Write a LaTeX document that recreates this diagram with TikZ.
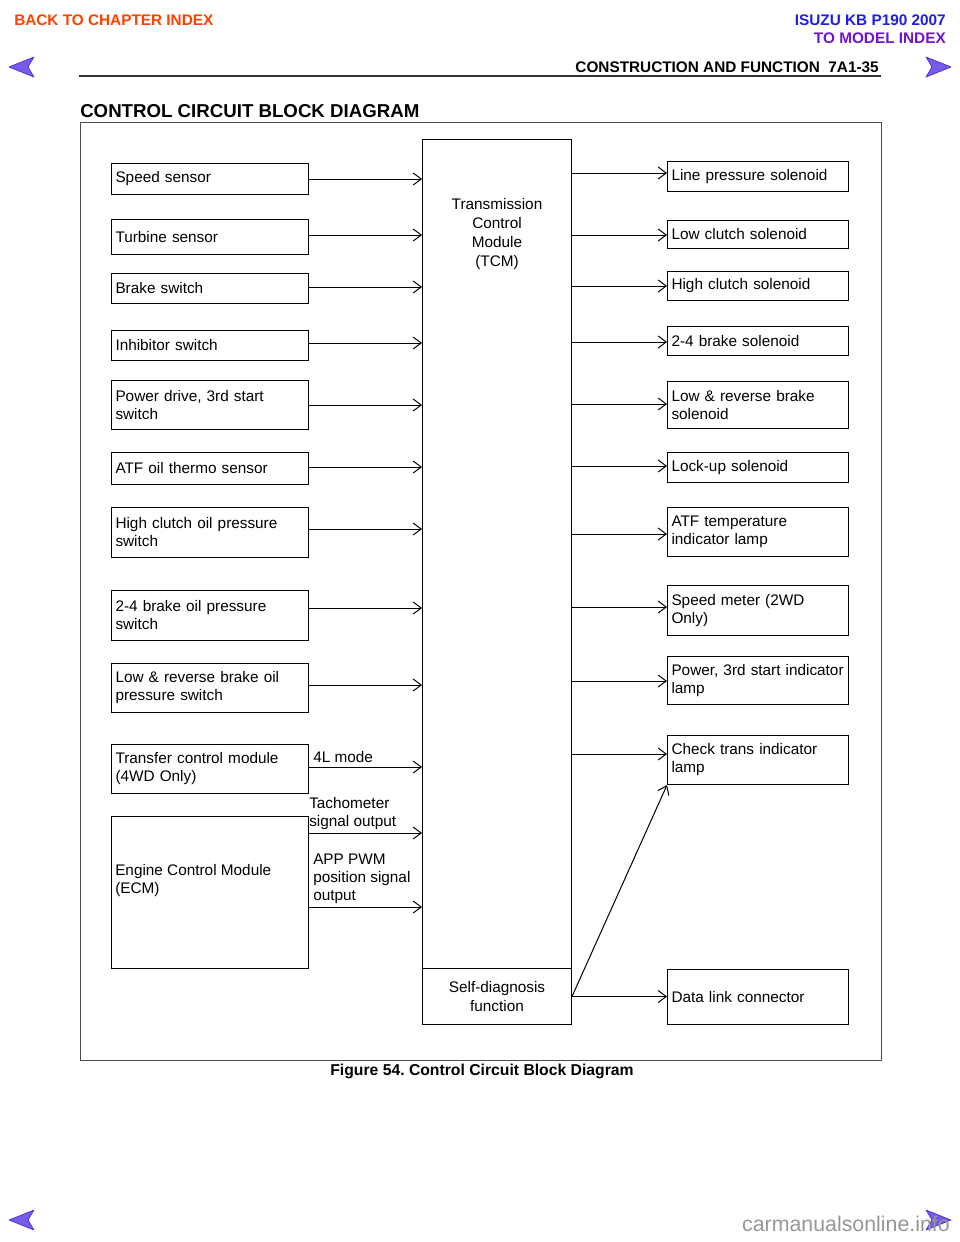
\documentclass[tikz,border=0pt]{standalone}
\usepackage{fontspec}
\setmainfont{Liberation Sans}
\usetikzlibrary{arrows.meta}
\frenchspacing
\definecolor{backred}{RGB}{255,64,0}
\definecolor{isublue}{RGB}{30,30,230}
\definecolor{modelpurple}{RGB}{110,20,210}
\definecolor{navfill}{RGB}{120,90,235}
\definecolor{navedge}{RGB}{80,40,200}
\definecolor{wmgray}{RGB}{150,150,150}
\tikzset{
  box/.style={draw, line width=0.75pt, inner xsep=3pt, inner ysep=0pt, align=left, anchor=north west,
    font=\fontsize{11.5pt}{13.5pt}\selectfont},
  lbox/.style={box, minimum width=147.75pt, text width=141.75pt},
  rbox/.style={box, minimum width=135.75pt, text width=129.75pt},
  arr/.style={line width=0.75pt, -{Straight Barb[length=6pt,width=9pt,line width=0.75pt]}},
  lbl/.style={font=\fontsize{11.5pt}{13.5pt}\selectfont, inner sep=0pt, align=left},
  hdr/.style={font=\bfseries\fontsize{11.5pt}{13.5pt}\selectfont, inner sep=0pt},
  nav/.style={fill=navfill, draw=navedge, line width=0.5pt, line join=round}
}
\begin{document}
\begin{tikzpicture}[x=0.75pt, y=-0.75pt]
\useasboundingbox (0,0) rectangle (960,1242);
% header
\node[hdr, text=backred, anchor=west] (back) at (14,20) {BACK TO CHAPTER INDEX};
\node[hdr, text=isublue, anchor=east] (isuzu) at (946,20) {ISUZU KB P190 2007};
\node[hdr, text=modelpurple, anchor=east] (model) at (946,38) {TO MODEL INDEX};
\node[hdr, anchor=east] (section) at (879,67) {CONSTRUCTION AND FUNCTION\ \ 7A1-35};
\draw[line width=1.5pt, black!80] (79,76) -- (881,76);
\node[font=\bfseries\fontsize{14pt}{16pt}\selectfont, inner sep=0pt, anchor=west] (title) at (80,111) {CONTROL CIRCUIT BLOCK DIAGRAM};
% nav arrows
\draw[nav] (9,67) -- (34,57) -- (28,67) -- (34,77) -- cycle;
\draw[nav] (951,67) -- (926,57) -- (932,67) -- (926,77) -- cycle;
\draw[nav] (9,1220) -- (34,1210) -- (28,1220) -- (34,1230) -- cycle;
\draw[nav] (951,1220) -- (926,1210) -- (932,1220) -- (926,1230) -- cycle;
% frame
\draw[line width=0.75pt, black!70] (80,122) rectangle (881,1060);
\node[hdr, font=\bfseries\fontsize{11.8pt}{13pt}\selectfont] (caption) at (482,1071) {Figure 54. Control Circuit Block Diagram};
% TCM
\node[draw, line width=0.75pt, minimum width=111.75pt, minimum height=621.75pt, anchor=north west, inner sep=0pt] (tcm) at (422,139) {};
\node[lbl, align=center, font=\fontsize{11.5pt}{14.25pt}\selectfont] (tcmtext) at (497,234) {Transmission\\Control\\Module\\(TCM)};
\node[draw, line width=0.75pt, minimum width=111.75pt, minimum height=42pt, anchor=north west, inner sep=0pt,
  align=center, font=\fontsize{11.5pt}{14.25pt}\selectfont] (selfdiag) at (422,968) {Self-diagnosis\\function};
% left boxes
\foreach \n/\a/\b/\y/\t in {
  speed/163/194/179/{Speed sensor},
  turbine/219/254/235/{Turbine sensor},
  brake/273/303/287/{Brake switch},
  inhib/330/360/343/{Inhibitor switch},
  power/380/429/405/{Power drive, 3rd start\\switch},
  atf/452/484/467/{ATF oil thermo sensor},
  hclutch/507/557/529/{High clutch oil pressure\\switch},
  twofour/590/640/608/{2-4 brake oil pressure\\switch},
  lowrev/663/712/685/{Low \& reverse brake oil\\pressure switch},
  transfer/744/793/767/{Transfer control module\\(4WD Only)}}{
  \node[lbox, minimum height={(\b-\a)*0.75pt}] (\n) at (111,\a) {\t};
  \draw[arr] (\n.east |- 0,\y) -- (tcm.west |- 0,\y);
}
% ECM
\node[draw, line width=0.75pt, minimum width=147.75pt, minimum height=114pt, anchor=north west, inner sep=0pt] (ecm) at (111,816) {};
\node[lbl, anchor=west] (ecmtext) at (115,881) {Engine Control Module\\(ECM)};
\draw[arr] (ecm.east |- 0,833) -- (tcm.west |- 0,833);
\draw[arr] (ecm.east |- 0,907) -- (tcm.west |- 0,907);
\node[lbl, anchor=south west] (l4l) at (313,763) {4L mode};
\node[lbl, anchor=south west] (ltach) at (309,830) {Tachometer\\signal output};
\node[lbl, anchor=south west] (lapp) at (313,904) {APP PWM\\position signal\\output};
% right boxes
\foreach \n/\a/\b/\y/\t in {
  linep/161/191/173/{Line pressure solenoid},
  lowcl/220/248/235/{Low clutch solenoid},
  highcl/271/300/286/{High clutch solenoid},
  twofoursol/326/355/342/{2-4 brake solenoid},
  lowrevsol/381/428/404/{Low \& reverse brake\\solenoid},
  lockup/452/482/466/{Lock-up solenoid},
  atflamp/507/556/534/{ATF temperature\\indicator lamp},
  speedm/585/635/607/{Speed meter (2WD\\Only)},
  powlamp/656/704/681/{Power, 3rd start indicator\\lamp},
  check/735/784/754/{Check trans indicator\\lamp}}{
  \node[rbox, minimum height={(\b-\a)*0.75pt}] (\n) at (667,\a) {\t};
  \draw[arr] (tcm.east |- 0,\y) -- (\n.west |- 0,\y);
}
\node[rbox, minimum height=41.25pt] (dlc) at (667,969) {Data link connector};
\draw[arr] (selfdiag.east) -- (dlc.west |- selfdiag.east);
\draw[arr] (selfdiag.east) -- (check.south west);
% watermark
\node[font=\fontsize{16pt}{18pt}\selectfont, text=wmgray, inner sep=0pt, anchor=east] (wm) at (950,1224) {carmanualsonline.info};
\end{tikzpicture}
\end{document}
